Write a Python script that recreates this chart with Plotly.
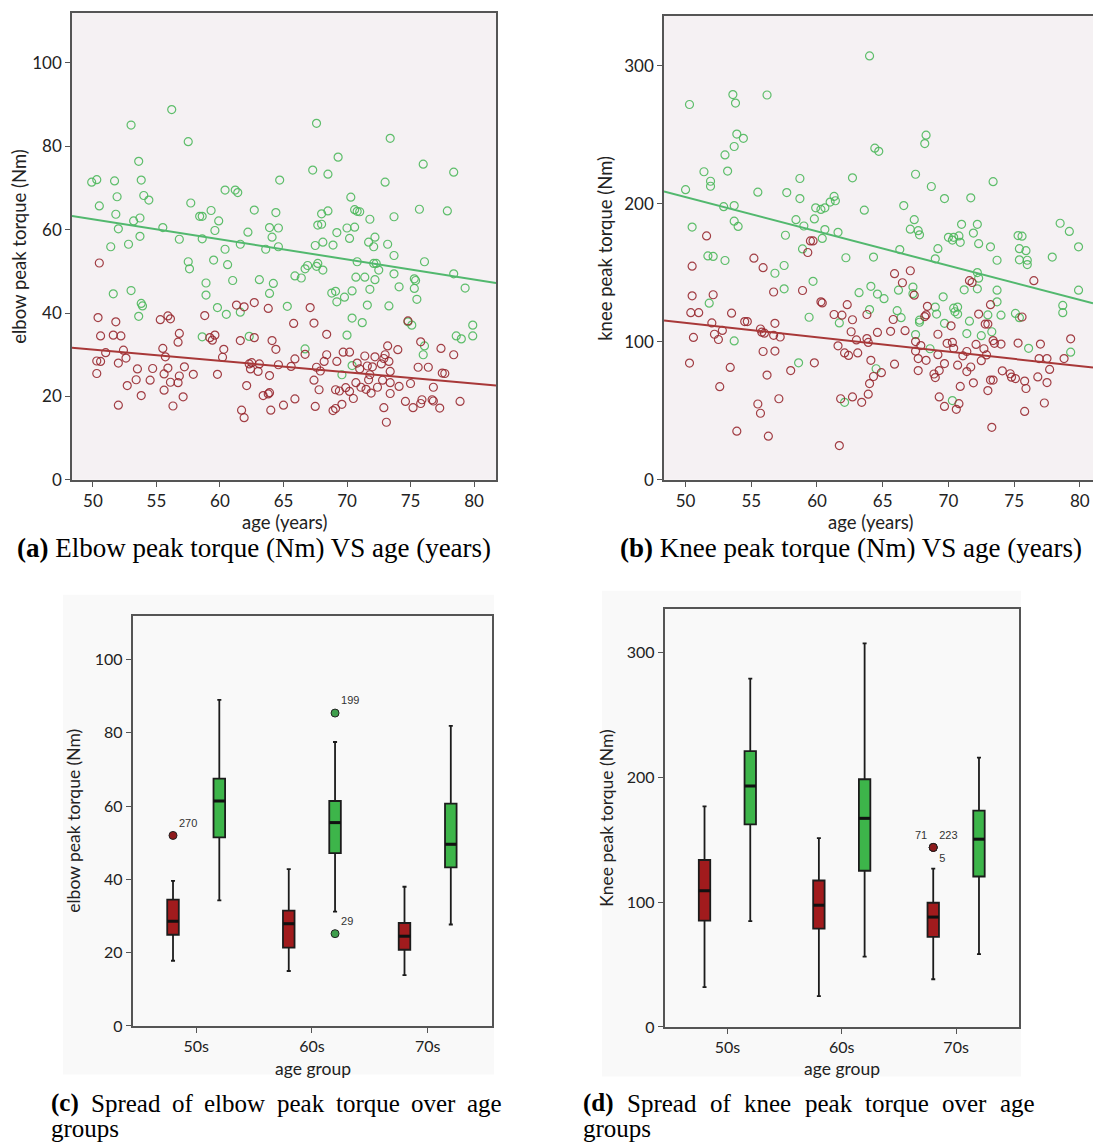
import plotly.graph_objects as go

W, H = 1093, 1148

# ---------------- data ----------------
# Elbow peak torque (Nm) against age (years)
elbow_men_age = [49.9, 50.3, 50.5, 51.7, 51.9, 51.8, 52.0, 51.4, 51.6, 53.0, 53.2, 52.8, 53.0, 53.6, 53.8,
                 53.7, 53.7, 54.0, 54.4, 53.8, 53.9, 53.6, 55.5, 56.2, 56.8, 57.5, 57.7, 57.5, 57.6, 58.4,
                 58.6, 58.6, 58.6, 58.9, 58.9, 59.3, 59.6, 59.9, 59.5, 59.8, 60.4, 60.4, 60.6, 61.0, 60.5,
                 61.2, 61.4, 61.6, 61.6, 62.2, 62.7, 62.3, 63.1, 63.6, 63.9, 64.1, 64.4, 64.6, 64.7, 64.6,
                 64.2, 63.9, 65.3, 65.9, 66.4, 66.7, 66.9, 66.7, 67.3, 67.6, 67.5, 67.7, 68.0, 67.6, 67.7,
                 68.1, 68.1, 68.0, 68.5, 68.5, 68.9, 69.2, 69.3, 68.8, 69.1, 69.2, 69.8, 70.0, 69.6, 70.0,
                 70.2, 70.3, 70.6, 70.6, 70.8, 71.0, 70.4, 70.7, 70.8, 70.4, 71.2, 70.4, 71.4, 71.6, 71.8,
                 71.7, 71.8, 72.1, 72.2, 72.1, 72.3, 72.5, 72.2, 73.0, 73.4, 73.2, 73.7, 73.7, 73.7, 73.3,
                 74.1, 74.8, 75.1, 75.7, 75.3, 75.4, 75.3, 75.5, 76.0, 76.1, 76.1, 76.0, 77.9, 78.4, 78.4,
                 78.6, 79.0, 79.3, 79.9, 79.9]
elbow_men_torque = [71.4, 72.0, 65.7, 71.7, 67.9, 63.7, 60.2, 55.9, 44.6, 85.1, 62.1, 56.5, 45.4, 76.4, 71.9,
                    62.8, 58.4, 68.2, 67.1, 42.3, 41.7, 39.2, 60.5, 88.8, 57.7, 81.1, 66.4, 52.3, 50.6, 63.2,
                    63.2, 57.8, 34.3, 47.2, 44.3, 64.6, 59.8, 62.1, 52.7, 41.3, 69.5, 55.3, 51.6, 47.8, 39.7,
                    69.5, 68.9, 56.5, 40.2, 59.4, 64.7, 34.4, 48.0, 55.3, 60.5, 58.2, 64.1, 60.4, 71.9, 55.9,
                    47.1, 44.7, 41.6, 48.9, 48.4, 50.6, 51.4, 31.4, 74.3, 85.5, 56.2, 61.1, 61.3, 51.2, 51.9,
                    50.3, 57.0, 63.8, 64.5, 73.3, 56.3, 59.3, 77.4, 44.8, 45.2, 42.7, 43.8, 34.7, 25.2, 60.4,
                    57.9, 67.8, 60.6, 64.8, 64.4, 64.3, 45.3, 48.6, 52.3, 38.8, 37.7, 27.4, 48.6, 41.9, 45.7,
                    57.0, 62.5, 55.9, 58.2, 51.9, 51.9, 50.3, 48.0, 71.4, 81.9, 56.5, 63.1, 53.8, 49.4, 41.7,
                    46.3, 37.9, 37.1, 64.9, 48.2, 47.8, 45.9, 43.3, 75.7, 52.3, 32.1, 30.0, 64.5, 73.8, 49.4,
                    34.5, 33.8, 46.0, 37.1, 34.5]
elbow_women_age = [50.3, 50.6, 50.3, 50.5, 50.4, 50.6, 51.0, 51.6, 51.8, 52.0, 52.0, 52.2, 52.4, 52.6, 52.7,
                   53.4, 53.5, 53.8, 54.5, 54.7, 55.3, 55.5, 55.7, 55.6, 55.6, 55.9, 55.9, 56.1, 56.1, 56.3,
                   56.7, 56.7, 56.8, 56.8, 57.1, 57.2, 57.9, 58.8, 59.2, 59.4, 59.6, 60.3, 60.2, 59.8, 61.3,
                   61.9, 61.6, 62.1, 61.7, 61.9, 62.3, 62.4, 62.5, 62.7, 62.7, 63.0, 63.1, 63.4, 63.8, 63.9,
                   63.9, 63.8, 64.1, 64.0, 64.4, 64.6, 65.0, 65.6, 65.8, 65.9, 65.9, 66.7, 67.1, 67.4, 67.4,
                   67.6, 67.5, 67.8, 67.9, 68.2, 68.4, 68.4, 68.9, 69.1, 69.2, 69.1, 69.4, 69.6, 69.7, 69.9,
                   70.2, 70.2, 70.5, 70.7, 70.8, 71.0, 71.1, 71.4, 71.5, 71.6, 71.8, 71.7, 71.9, 72.0, 72.2,
                   72.4, 72.7, 72.8, 72.9, 73.0, 72.9, 73.1, 73.2, 73.3, 73.4, 73.4, 73.4, 74.0, 74.1, 74.6,
                   74.8, 75.0, 75.2, 75.6, 75.8, 75.8, 75.9, 76.4, 76.7, 76.8, 76.8, 77.3, 77.4, 77.5, 77.7,
                   78.4, 78.9]
elbow_women_torque = [28.5, 28.4, 25.5, 52.0, 38.9, 34.5, 30.5, 34.7, 37.9, 28.0, 17.9, 34.5, 31.1, 29.2, 22.6,
                      24.0, 26.6, 20.2, 23.9, 26.7, 38.4, 31.5, 29.5, 25.4, 21.5, 26.8, 39.3, 38.6, 23.4, 17.7,
                      23.3, 33.0, 35.1, 24.9, 19.9, 27.1, 25.3, 39.4, 34.1, 33.5, 34.7, 31.3, 29.4, 25.3, 41.9,
                      41.5, 33.4, 22.6, 16.7, 14.9, 27.8, 26.6, 28.1, 42.5, 34.1, 26.0, 27.8, 20.2, 20.6, 20.9,
                      25.0, 41.1, 33.4, 16.7, 31.3, 27.6, 17.9, 27.2, 37.5, 29.0, 19.4, 30.1, 41.3, 37.6, 23.9,
                      27.0, 17.6, 21.6, 26.1, 28.4, 30.0, 34.9, 16.6, 17.1, 28.4, 21.6, 21.3, 18.1, 30.6, 22.1,
                      30.6, 21.2, 19.5, 23.3, 28.0, 26.6, 22.2, 29.7, 21.7, 27.3, 25.2, 24.0, 20.8, 27.1, 29.5,
                      22.2, 27.8, 23.9, 29.1, 30.0, 17.3, 13.8, 32.1, 28.4, 26.0, 23.3, 20.7, 31.2, 22.4, 18.8,
                      38.1, 23.1, 17.3, 27.0, 33.1, 18.3, 19.2, 27.0, 19.2, 22.2, 18.9, 17.2, 31.5, 25.6, 25.5,
                      30.0, 18.8]

# Knee peak torque (Nm) against age (years)
knee_men_age = [50.0, 50.3, 50.5, 51.4, 51.9, 51.9, 51.7, 52.1, 51.8, 52.9, 53.0, 53.2, 53.0, 53.6, 53.8,
                53.7, 53.9, 54.4, 53.7, 53.7, 54.0, 53.7, 55.5, 56.2, 56.8, 57.5, 57.5, 57.6, 57.7, 58.7,
                58.7, 58.4, 59.0, 58.9, 59.7, 59.4, 58.6, 59.9, 59.8, 60.3, 60.6, 61.0, 61.3, 61.4, 60.6,
                60.4, 61.6, 61.7, 62.2, 62.7, 63.2, 63.6, 64.0, 64.0, 64.1, 64.3, 64.4, 64.7, 64.6, 65.1,
                64.5, 62.1, 66.3, 66.6, 66.1, 66.4, 66.2, 67.1, 67.4, 67.5, 67.7, 67.8, 67.3, 67.3, 67.5,
                68.3, 68.2, 68.7, 67.8, 67.8, 68.6, 69.0, 69.1, 69.2, 69.0, 69.7, 69.6, 69.7, 70.0, 70.3,
                70.4, 70.8, 70.9, 71.0, 70.4, 70.5, 70.7, 70.7, 70.3, 71.2, 71.4, 71.6, 71.7, 71.9, 72.2,
                72.3, 72.2, 72.3, 72.2, 72.5, 73.0, 73.2, 73.4, 73.7, 73.7, 73.7, 73.3, 74.0, 75.3, 75.6,
                75.4, 75.4, 75.9, 76.0, 76.0, 75.1, 75.4, 76.1, 77.9, 78.5, 79.2, 79.9, 79.9, 78.7, 78.7,
                79.3]
knee_men_torque = [210.1, 271.8, 183.0, 223.1, 216.2, 212.6, 162.1, 161.8, 127.9, 197.8, 235.3, 223.6, 158.8,
                   279.0, 272.8, 241.4, 250.4, 247.3, 198.6, 187.3, 183.5, 100.6, 208.3, 278.7, 149.6, 155.2,
                   138.3, 177.1, 208.0, 218.2, 203.7, 188.4, 183.8, 167.2, 143.7, 117.7, 84.7, 197.0, 188.9,
                   195.8, 197.0, 201.1, 205.2, 202.1, 181.2, 174.8, 179.2, 113.6, 160.8, 218.7, 135.5, 195.3,
                   307.0, 123.3, 140.1, 161.3, 240.2, 237.9, 134.5, 131.2, 80.4, 56.1, 166.7, 198.6, 122.5,
                   117.4, 137.3, 181.5, 188.4, 221.3, 180.4, 177.4, 139.6, 134.8, 105.2, 249.6, 243.5, 212.4,
                   115.6, 114.1, 94.9, 125.1, 120.0, 167.4, 160.0, 203.7, 132.5, 113.3, 175.6, 173.6, 175.6,
                   176.6, 172.0, 185.0, 124.3, 121.7, 125.1, 120.0, 57.4, 137.6, 105.9, 114.9, 204.2, 178.7,
                   185.0, 171.0, 150.1, 146.0, 138.3, 104.4, 119.4, 168.7, 215.9, 159.0, 137.3, 128.9, 107.2,
                   119.2, 176.9, 176.4, 167.4, 159.3, 165.9, 159.0, 155.9, 120.5, 117.4, 95.2, 161.3, 185.8,
                   179.9, 168.7, 137.3, 126.3, 121.0, 92.4]
knee_women_age = [50.5, 50.5, 50.4, 51.0, 50.6, 50.3, 51.6, 52.1, 52.0, 52.2, 52.5, 52.8, 52.6, 53.5, 53.4,
                  53.9, 54.5, 54.7, 55.2, 55.9, 55.7, 55.8, 56.0, 55.9, 56.2, 55.5, 55.7, 56.3, 56.7, 56.8,
                  56.7, 57.2, 56.8, 57.1, 58.0, 58.9, 59.3, 59.5, 59.7, 59.8, 60.3, 60.4, 61.3, 61.9, 62.3,
                  61.6, 62.1, 62.4, 61.8, 61.7, 62.6, 62.7, 63.0, 63.1, 62.7, 63.4, 63.8, 63.8, 63.9, 64.1,
                  64.0, 63.9, 64.3, 64.6, 64.9, 65.6, 65.9, 65.8, 65.9, 66.5, 66.7, 67.1, 67.4, 67.5, 67.5,
                  67.7, 67.9, 67.7, 68.3, 68.4, 68.3, 68.2, 69.2, 69.2, 68.9, 69.0, 69.3, 69.7, 69.3, 69.7,
                  69.9, 70.2, 70.3, 70.4, 70.7, 70.6, 70.8, 70.9, 71.1, 71.4, 71.4, 71.6, 71.8, 71.7, 71.9,
                  72.1, 72.3, 72.5, 72.7, 72.8, 73.0, 72.9, 73.0, 73.2, 73.4, 73.2, 73.4, 73.5, 73.3, 74.0,
                  74.1, 74.7, 74.8, 75.1, 75.3, 75.6, 75.8, 75.9, 75.8, 76.5, 76.8, 77.0, 76.9, 77.5, 77.5,
                  77.7, 77.3, 78.8, 79.3]
knee_women_torque = [154.7, 133.2, 121.0, 121.0, 103.1, 84.5, 176.6, 134.0, 113.6, 105.4, 101.6, 108.2, 67.4,
                     120.7, 81.4, 35.2, 114.6, 114.6, 160.5, 153.6, 109.2, 106.9, 106.2, 92.9, 75.8, 54.9, 48.2,
                     31.6, 136.0, 113.3, 104.6, 103.4, 93.2, 58.7, 79.1, 137.1, 164.6, 173.0, 173.0, 84.7,
                     128.9, 128.1, 119.7, 119.2, 126.8, 97.0, 91.9, 90.1, 58.7, 24.8, 107.2, 115.9, 101.3, 91.9,
                     60.0, 56.1, 119.7, 102.3, 99.5, 86.5, 69.7, 62.0, 74.8, 106.7, 77.6, 107.5, 149.3, 116.1,
                     83.7, 142.7, 108.0, 151.4, 133.7, 100.1, 93.2, 87.8, 97.2, 79.1, 86.5, 125.6, 119.4, 118.2,
                     105.4, 90.6, 76.6, 74.0, 79.1, 84.2, 60.0, 53.1, 98.8, 111.5, 99.5, 95.2, 83.0, 51.0, 55.1,
                     67.6, 89.8, 92.9, 78.4, 144.2, 142.9, 81.7, 70.2, 98.0, 120.0, 86.3, 94.9, 112.8, 112.8,
                     90.4, 64.6, 72.2, 72.2, 126.8, 100.8, 98.8, 38.0, 98.3, 78.9, 76.8, 74.3, 73.3, 99.0,
                     117.9, 71.5, 66.1, 49.5, 144.2, 74.5, 98.3, 87.8, 87.8, 70.4, 79.9, 55.6, 87.8, 102.1]

# Linear fits: value at age 50 and slope per year
elbow_fit_men = (62.5, -0.482)
elbow_fit_women = (31.24, -0.272)
knee_fit_men = (204.7, -2.48)
knee_fit_women = (113.7, -1.047)

# Box summaries per age group
age_groups = ["50s", "60s", "70s"]
elbow_women_box = dict(lo=[17.8, 15.0, 13.9], q1=[24.9, 21.4, 20.8], med=[28.6, 27.9, 24.5],
                       q3=[34.5, 31.5, 28.1], hi=[39.6, 42.8, 38.0])
elbow_men_box = dict(lo=[34.3, 31.2, 27.7], q1=[51.5, 47.2, 43.3], med=[61.4, 55.5, 49.6],
                     q3=[67.5, 61.4, 60.7], hi=[89.0, 77.5, 81.9])
knee_women_box = dict(lo=[31.9, 24.7, 38.2], q1=[85.2, 78.8, 72.2], med=[109.0, 97.5, 88.0],
                      q3=[133.7, 117.3, 99.5], hi=[176.6, 151.3, 126.8])
knee_men_box = dict(lo=[84.8, 56.4, 58.4], q1=[162.2, 125.1, 120.5], med=[193.0, 167.1, 150.4],
                    q3=[220.9, 198.4, 173.2], hi=[279.0, 307.2, 215.7])

# Outliers: (group index, value, case labels)
elbow_women_outliers = [(0, 52.0, ["270"])]
elbow_men_outliers = [(1, 85.4, ["199"]), (1, 25.2, ["29"])]
knee_women_outliers = [(2, 143.8, ["71", "223", "5"])]

# ---------------- styling ----------------
GREEN = "rgba(78,184,92,0.9)"
RED = "rgba(150,38,44,0.88)"
GREEN_LINE = "#52B86E"
RED_LINE = "#A83838"
BOX_GREEN = "#3DB54A"
BOX_RED = "#A11B1D"
SANS = "Lato"
SERIF = "Liberation Serif"
BOX_W = 0.1
OFFSET = 0.2

fig = go.Figure()


def scatter(xs, ys, color, xa, ya):
    fig.add_trace(go.Scatter(x=xs, y=ys, mode="markers", xaxis=xa, yaxis=ya,
                             marker=dict(symbol="circle-open", size=8, color=color,
                                         line=dict(width=1.2, color=color)),
                             showlegend=False, hoverinfo="skip"))


def fit(coef, span, color, xa, ya):
    a50, slope = coef
    ys = [a50 + slope * (v - 50) for v in span]
    fig.add_trace(go.Scatter(x=span, y=ys, mode="lines", xaxis=xa, yaxis=ya,
                             line=dict(color=color, width=2), showlegend=False, hoverinfo="skip"))


span_a = [48.35, 81.73]
span_b = [48.36, 81.0]

scatter(elbow_men_age, elbow_men_torque, GREEN, "x", "y")
scatter(elbow_women_age, elbow_women_torque, RED, "x", "y")
fit(elbow_fit_men, span_a, GREEN_LINE, "x", "y")
fit(elbow_fit_women, span_a, RED_LINE, "x", "y")

scatter(knee_men_age, knee_men_torque, GREEN, "x2", "y2")
scatter(knee_women_age, knee_women_torque, RED, "x2", "y2")
fit(knee_fit_men, span_b, GREEN_LINE, "x2", "y2")
fit(knee_fit_women, span_b, RED_LINE, "x2", "y2")


def boxes(stats, offset, fill, xa, ya):
    pos = [i + offset for i in range(len(age_groups))]
    fig.add_trace(go.Box(x=pos, q1=stats["q1"], median=stats["med"], q3=stats["q3"],
                         lowerfence=stats["lo"], upperfence=stats["hi"], width=BOX_W,
                         whiskerwidth=0.35, fillcolor=fill, boxpoints=False,
                         line=dict(color="#1c1c1c", width=1.8), xaxis=xa, yaxis=ya,
                         showlegend=False, hoverinfo="skip"))
    mx, my = [], []
    for p, m in zip(pos, stats["med"]):
        mx += [p - BOX_W / 2, p + BOX_W / 2, None]
        my += [m, m, None]
    fig.add_trace(go.Scatter(x=mx, y=my, mode="lines", line=dict(color="#111", width=3),
                             xaxis=xa, yaxis=ya, showlegend=False, hoverinfo="skip"))


def outliers(items, offset, fill, xa, ya, positions):
    xs, ys, txt, tp = [], [], [], []
    for gi, val, labels in items:
        for k, lab in enumerate(labels):
            xs.append(gi + offset)
            ys.append(val)
            txt.append(lab)
            tp.append(positions[k])
    fig.add_trace(go.Scatter(x=xs, y=ys, mode="markers+text", text=txt, textposition=tp,
                             textfont=dict(family="Arial", size=11, color="#333"),
                             marker=dict(size=8, color=fill, line=dict(color="#222", width=1)),
                             xaxis=xa, yaxis=ya, showlegend=False, hoverinfo="skip"))


boxes(elbow_women_box, -OFFSET, BOX_RED, "x3", "y3")
boxes(elbow_men_box, OFFSET, BOX_GREEN, "x3", "y3")
outliers(elbow_women_outliers, -OFFSET, "#8E1A1C", "x3", "y3", ["top right"])
outliers(elbow_men_outliers, OFFSET, "#3E9E4C", "x3", "y3", ["top right"])

boxes(knee_women_box, -OFFSET, BOX_RED, "x4", "y4")
boxes(knee_men_box, OFFSET, BOX_GREEN, "x4", "y4")
outliers(knee_women_outliers, -OFFSET, "#8E1A1C", "x4", "y4", ["top left", "top right", "bottom right"])


# ---------------- axes ----------------
def px(x):
    return x / W


def py(y):
    return 1 - y / H


axis_common = dict(showline=True, linecolor="#555", linewidth=1.6, ticks="outside", ticklen=5,
                   tickcolor="#555", tickwidth=1.3, showgrid=False, zeroline=False,
                   tickfont=dict(family=SANS, size=17, color="#222"))
box_axis = dict(axis_common, tickfont=dict(family=SANS, size=16, color="#222"))

layout = dict(
    width=W, height=H, margin=dict(l=0, r=0, t=0, b=0),
    paper_bgcolor="white", plot_bgcolor="#F5F1F3", boxmode="overlay", showlegend=False,
    xaxis=dict(axis_common, domain=[px(72), px(496)], range=span_a, tickvals=[50, 55, 60, 65, 70, 75, 80],
               mirror=True, anchor="y"),
    yaxis=dict(axis_common, domain=[py(484), py(13)], range=[0, 112], tickvals=[0, 20, 40, 60, 80, 100],
               mirror=True, anchor="x"),
    xaxis2=dict(axis_common, domain=[px(664), 1.0], range=span_b, tickvals=[50, 55, 60, 65, 70, 75, 80],
                mirror=True, anchor="y2"),
    yaxis2=dict(axis_common, domain=[py(484), py(16)], range=[0, 336], tickvals=[0, 100, 200, 300],
                anchor="x2"),
    xaxis3=dict(box_axis, domain=[px(132.5), px(492)], range=[-0.55, 2.556], tickvals=[0, 1, 2],
                ticktext=age_groups, mirror=True, anchor="y3"),
    yaxis3=dict(box_axis, domain=[py(1035), py(621)], range=[0, 112], tickvals=[0, 20, 40, 60, 80, 100],
                mirror=True, anchor="x3"),
    xaxis4=dict(box_axis, domain=[px(664.5), px(1019)], range=[-0.55, 2.55], tickvals=[0, 1, 2],
                ticktext=age_groups, mirror=True, anchor="y4"),
    yaxis4=dict(box_axis, domain=[py(1036), py(614)], range=[0, 335], tickvals=[0, 100, 200, 300],
                mirror=True, anchor="x4"),
)

# faint backdrop behind the box plots
layout["shapes"] = [
    dict(type="rect", xref="paper", yref="paper", x0=px(63), x1=px(494), y0=py(1084), y1=py(600),
         fillcolor="#F9F9F9", line=dict(width=0), layer="below"),
    dict(type="rect", xref="paper", yref="paper", x0=px(602), x1=px(1021), y0=py(1086), y1=py(596),
         fillcolor="#F9F9F9", line=dict(width=0), layer="below"),
]


def text(t, x, y, size, family=SANS, angle=0, xanchor="center", color="#222"):
    return dict(text=t, x=px(x), y=py(y), xref="paper", yref="paper", showarrow=False,
                font=dict(size=size, family=family, color=color), textangle=angle,
                xanchor=xanchor, yanchor="middle")


ann = [
    text("elbow peak torque (Nm)", 19, 249, 18.5, angle=-90),
    text("knee peak torque (Nm)", 605, 251, 18.5, angle=-90),
    text("elbow peak torque (Nm)", 74, 828, 17.5, angle=-90),
    text("Knee peak torque (Nm)", 607, 825, 17.5, angle=-90),
    text("age (years)", 284, 527, 18.5),
    text("age (years)", 870, 527, 18.5),
    text("age group", 313, 1078, 17.5),
    text("age group", 842, 1078, 17.5),
    text("<b>(a)</b> Elbow peak torque (Nm) VS age (years)", 254, 553, 27, family=SERIF, color="#000"),
    text("<b>(b)</b> Knee peak torque (Nm) VS age (years)", 851, 553, 27, family=SERIF, color="#000"),
]

# justified first caption lines, word by word
caption_c = [("<b>(c)</b>", 49.3), ("Spread", 88.7), ("of", 169.7), ("elbow", 202.1), ("peak", 274.8),
             ("torque", 333.6), ("over", 409.1), ("age", 465.1)]
caption_d = [("<b>(d)</b>", 581.0), ("Spread", 624.9), ("of", 707.7), ("knee", 741.9), ("peak", 802.5),
             ("torque", 863.1), ("over", 940.3), ("age", 998.1)]
for w, x in caption_c:
    ann.append(text(w, x, 1113, 25, family=SERIF, xanchor="left", color="#000"))
for w, x in caption_d:
    ann.append(text(w, x, 1113, 25, family=SERIF, xanchor="left", color="#000"))
ann.append(text("groups", 49.3, 1138, 25, family=SERIF, xanchor="left", color="#000"))
ann.append(text("groups", 581.0, 1138, 25, family=SERIF, xanchor="left", color="#000"))

layout["annotations"] = ann
fig.update_layout(layout)

fig.write_html("out.html")
